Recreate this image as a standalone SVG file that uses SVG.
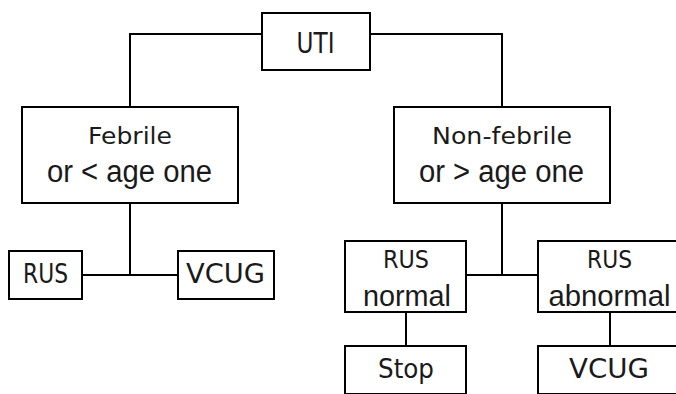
<svg xmlns="http://www.w3.org/2000/svg" width="676" height="394" viewBox="0 0 676 394">
<style>
rect{fill:#fff;stroke:#000;stroke-width:2}
.c path{fill:none;stroke:#000;stroke-width:2}
text{font-family:"DejaVu Sans","Liberation Sans",sans-serif;fill:#1a1a1a;text-anchor:middle}
text.w{font-family:"Liberation Sans","DejaVu Sans",sans-serif}
</style>
<rect x="0" y="0" width="676" height="394" style="stroke:none"/>
<g class="c" id="connectors">
<path d="M262 34H130V107"/>
<path d="M370 34H502V107"/>
<path d="M130 203V275"/>
<path d="M82 275H178"/>
<path d="M502 203V275"/>
<path d="M466 275H538"/>
<path d="M406 312V346"/>
<path d="M610 312V346"/>
</g>
<g id="uti"><rect x="262" y="13" width="108" height="57"/><text x="315.5" y="53" font-size="29" textLength="38" lengthAdjust="spacingAndGlyphs">UTI</text></g>
<g id="febrile"><rect x="22" y="107" width="216" height="96"/>
<text x="130" y="143.5" font-size="22.5" textLength="84" lengthAdjust="spacingAndGlyphs">Febrile</text>
<text class="w" x="129.5" y="181.5" font-size="31" textLength="165" lengthAdjust="spacingAndGlyphs">or &lt; age one</text></g>
<g id="nonfebrile"><rect x="394" y="107" width="216" height="96"/>
<text x="502" y="143.5" font-size="22.5" textLength="140" lengthAdjust="spacingAndGlyphs">Non-febrile</text>
<text class="w" x="501.5" y="181.5" font-size="31" textLength="165" lengthAdjust="spacingAndGlyphs">or &gt; age one</text></g>
<g id="rus"><rect x="9" y="251" width="73" height="48"/><text x="45.5" y="283" font-size="26" textLength="45" lengthAdjust="spacingAndGlyphs">RUS</text></g>
<g id="vcug1"><rect x="178" y="251" width="96" height="48"/><text x="225.5" y="283" font-size="26" textLength="79" lengthAdjust="spacingAndGlyphs">VCUG</text></g>
<g id="rusnormal"><rect x="345" y="241" width="121" height="71"/>
<text x="406" y="267.5" font-size="24" textLength="46" lengthAdjust="spacingAndGlyphs">RUS</text>
<text class="w" x="407" y="305.5" font-size="30" textLength="88" lengthAdjust="spacingAndGlyphs">normal</text></g>
<g id="rusabnormal"><rect x="538" y="241" width="144" height="71"/>
<text x="609.5" y="267.5" font-size="24" textLength="45" lengthAdjust="spacingAndGlyphs">RUS</text>
<text class="w" x="609.5" y="305.5" font-size="30" textLength="122" lengthAdjust="spacingAndGlyphs">abnormal</text></g>
<g id="stop"><rect x="345" y="346" width="121" height="48"/><text x="406" y="378" font-size="26" textLength="56" lengthAdjust="spacingAndGlyphs">Stop</text></g>
<g id="vcug2"><rect x="538" y="346" width="144" height="48"/><text x="609" y="378" font-size="26.5" textLength="80" lengthAdjust="spacingAndGlyphs">VCUG</text></g>
</svg>
